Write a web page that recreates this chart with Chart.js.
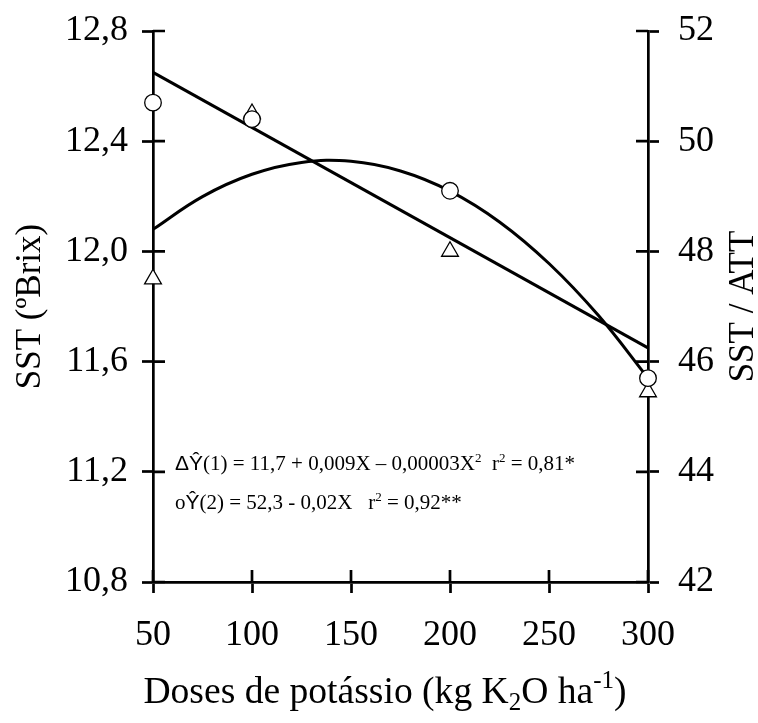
<!DOCTYPE html>
<html>
<head>
<meta charset="utf-8">
<script src="https://cdn.jsdelivr.net/npm/chart.js@4/dist/chart.umd.min.js"></script>
<style>
  html, body { margin: 0; padding: 0; background: #ffffff; }
  canvas { display: block; }
</style>
</head>
<body>
<canvas id="c" width="758" height="723"></canvas>
<script>
// ---- data ----
const doses = [50, 100, 200, 300];
const sstObserved = [11.9, 12.5, 12.0, 11.49];          // triangles, left axis (SST ºBrix)
const ratioObserved = [50.7, 50.4, 49.1, 45.7];         // circles, right axis (SST / ATT)
const curveDoses = [50, 75, 100, 125, 150, 175, 200, 225, 250, 275, 300];
const curveSST = [12.08, 12.199, 12.28, 12.323, 12.327, 12.292, 12.219, 12.107, 11.956, 11.767, 11.54];
const lineDoses = [50, 300];
const lineRatio = [51.25, 46.25];
const xTicks = [50, 100, 150, 200, 250, 300];
const leftTicks = [10.8, 11.2, 11.6, 12.0, 12.4, 12.8];
const rightTicks = [42, 44, 46, 48, 50, 52];

const SERIF = '"Liberation Serif", "Times New Roman", serif';
const SANS = '"Liberation Sans", Arial, sans-serif';
const LW = 2.7;

function pts(xs, ys) { return xs.map((x, i) => ({ x: x, y: ys[i] })); }

// inner halves of crossing tick marks
const innerTicks = {
  id: 'innerTicks',
  beforeDatasetsDraw(chart) {
    const ctx = chart.ctx, a = chart.chartArea;
    const L = 12;
    ctx.save();
    ctx.strokeStyle = '#000';
    ctx.lineWidth = LW;
    ctx.beginPath();
    xTicks.forEach(v => {
      const px = chart.scales.x.getPixelForValue(v);
      ctx.moveTo(px, a.bottom); ctx.lineTo(px, a.bottom - L);
    });
    leftTicks.forEach(v => {
      const py = chart.scales.y.getPixelForValue(v);
      ctx.moveTo(a.left, py); ctx.lineTo(a.left + L, py);
    });
    rightTicks.forEach(v => {
      const py = chart.scales.y2.getPixelForValue(v);
      ctx.moveTo(a.right, py); ctx.lineTo(a.right - L, py);
    });
    ctx.stroke();
    ctx.restore();
  }
};

// draw a run of text segments: [text, font, dy]
function drawRuns(ctx, x, y, runs) {
  let cx = x;
  runs.forEach(r => {
    ctx.font = r[1];
    ctx.fillText(r[0], cx, y + (r[2] || 0));
    cx += ctx.measureText(r[0]).width;
  });
  return cx - x;
}
function runsWidth(ctx, runs) {
  let w = 0;
  runs.forEach(r => { ctx.font = r[1]; w += ctx.measureText(r[0]).width; });
  return w;
}

const textLayer = {
  id: 'textLayer',
  afterDraw(chart) {
    const ctx = chart.ctx, a = chart.chartArea;
    const sx = chart.scales.x, sy = chart.scales.y;
    ctx.save();
    ctx.fillStyle = '#000';
    ctx.textBaseline = 'alphabetic';
    ctx.textAlign = 'left';

    // equations
    const f = '21px ' + SERIF, fs = '13px ' + SERIF, fsans = '21px ' + SANS;
    const ex = sx.getPixelForValue(61.1);
    const ey1 = sy.getPixelForValue(11.205);
    const ey2 = sy.getPixelForValue(11.065);
    drawRuns(ctx, ex, ey1, [
      ['\u0394\u0176', fsans], ['(1) = 11,7 + 0,009X \u2013 0,00003X', f], ['2', fs, -8],
      ['  r', f], ['2', fs, -8], [' = 0,81*', f]
    ]);
    drawRuns(ctx, ex, ey2, [
      ['o', f], ['\u0176', fsans], ['(2) = 52,3 - 0,02X   r', f], ['2', fs, -8], [' = 0,92**', f]
    ]);

    // x axis title
    const F = '37.6px ' + SERIF, Fs = '25px ' + SERIF;
    const xr = [['Doses de pot\u00e1ssio (kg K', F], ['2', Fs, 7], ['O ha', F], ['-1', Fs, -15], [')', F]];
    const w = runsWidth(ctx, xr);
    drawRuns(ctx, 385 - w / 2, 703, xr);

    const T = '35px ' + SERIF;
    // left title
    ctx.save();
    ctx.translate(40, (a.top + a.bottom) / 2);
    ctx.rotate(-Math.PI / 2);
    ctx.font = T; ctx.textAlign = 'center';
    ctx.fillText('SST (\u00baBrix)', 0, 0);
    ctx.restore();

    // right title
    ctx.save();
    ctx.translate(753, (a.top + a.bottom) / 2);
    ctx.rotate(-Math.PI / 2);
    ctx.font = T; ctx.textAlign = 'center';
    ctx.fillText('SST / ATT', 0, 0);
    ctx.restore();

    ctx.restore();
  }
};

const tickFont = { family: SERIF, size: 36 };
const gridCommon = { drawOnChartArea: false, drawTicks: true, tickLength: 11, tickWidth: LW, tickColor: '#000' };
const borderCommon = { display: true, color: '#000', width: LW };
function zeroPad(s) { s.paddingTop = 0; s.paddingBottom = 0; s.paddingLeft = 0; s.paddingRight = 0; }

new Chart(document.getElementById('c'), {
  type: 'scatter',
  data: {
    datasets: [
      {
        label: 'SST/ATT observed', data: pts(doses, ratioObserved), yAxisID: 'y2',
        pointStyle: 'circle', pointRadius: 8.3, pointBorderWidth: 1.3,
        pointBackgroundColor: '#fff', pointBorderColor: '#000', showLine: false, order: 0, clip: false
      },
      {
        label: 'SST observed', data: pts(doses, sstObserved), yAxisID: 'y',
        pointStyle: 'triangle', pointRadius: 9.7, pointBorderWidth: 1.3,
        pointBackgroundColor: '#fff', pointBorderColor: '#000', showLine: false, order: 1, clip: false
      },
      {
        label: 'SST fit', data: pts(curveDoses, curveSST), yAxisID: 'y',
        showLine: true, pointRadius: 0, borderColor: '#000', borderWidth: 3,
        tension: 0.4, order: 2, clip: false
      },
      {
        label: 'SST/ATT fit', data: pts(lineDoses, lineRatio), yAxisID: 'y2',
        showLine: true, pointRadius: 0, borderColor: '#000', borderWidth: 3,
        tension: 0, order: 3, clip: false
      }
    ]
  },
  options: {
    responsive: false,
    animation: false,
    devicePixelRatio: 1,
    layout: { padding: { top: 31, left: 0, right: 0, bottom: 0 } },
    plugins: { legend: { display: false }, tooltip: { enabled: false } },
    scales: {
      x: {
        type: 'linear', position: 'bottom', min: 50, max: 300,
        afterBuildTicks: s => { s.ticks = xTicks.map(v => ({ value: v })); },
        ticks: { font: tickFont, color: '#000', padding: 21, maxRotation: 0, callback: v => String(v) },
        grid: gridCommon, border: borderCommon,
        afterFit: s => { s.height = 141; zeroPad(s); }
      },
      y: {
        type: 'linear', position: 'left', min: 10.8, max: 12.8,
        afterBuildTicks: s => { s.ticks = leftTicks.map(v => ({ value: v })); },
        ticks: { font: tickFont, color: '#000', padding: 14, callback: v => v.toFixed(1).replace('.', ',') },
        grid: gridCommon, border: borderCommon,
        afterFit: s => { s.width = 153; zeroPad(s); }
      },
      y2: {
        type: 'linear', position: 'right', min: 42, max: 52,
        afterBuildTicks: s => { s.ticks = rightTicks.map(v => ({ value: v })); },
        ticks: { font: tickFont, color: '#000', padding: 19, callback: v => String(v) },
        grid: gridCommon, border: borderCommon,
        afterFit: s => { s.width = 110; zeroPad(s); }
      }
    }
  },
  plugins: [innerTicks, textLayer]
});
</script>
</body>
</html>
